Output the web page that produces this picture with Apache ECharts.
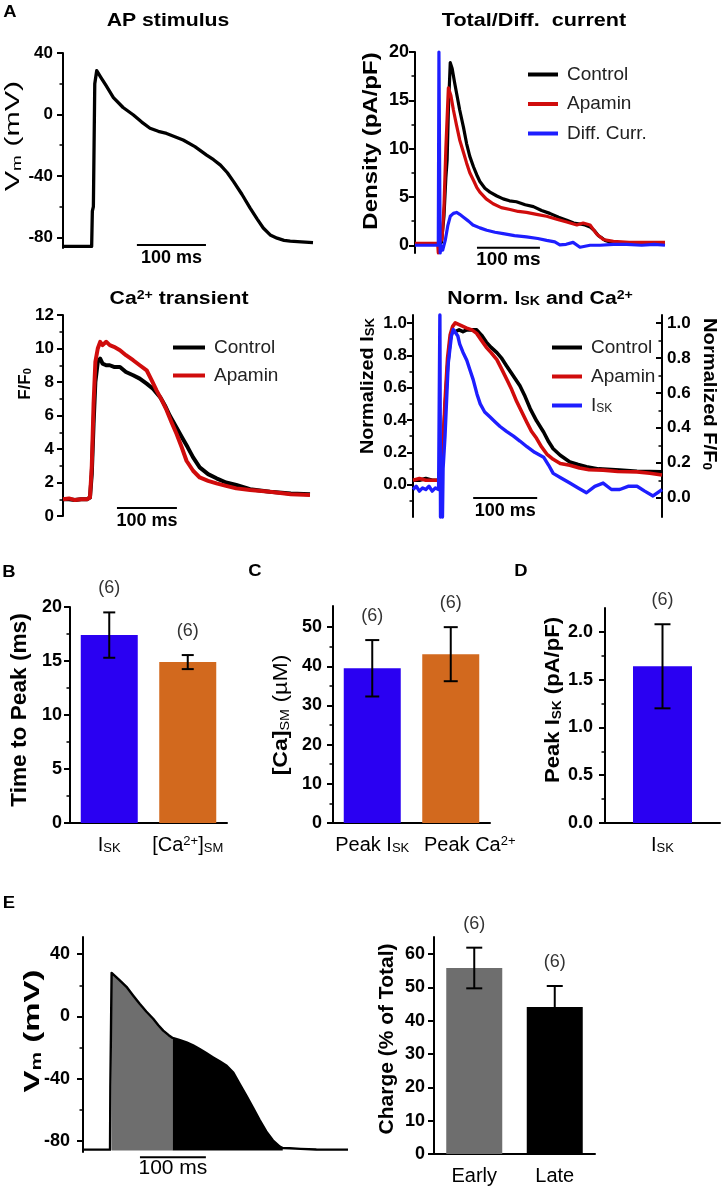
<!DOCTYPE html>
<html><head><meta charset="utf-8">
<script src="https://cdn.jsdelivr.net/npm/echarts@6/dist/echarts.min.js"></script>
<style>html,body{margin:0;padding:0;background:#fff}#c{width:725px;height:1187px}</style>
</head><body><div id="c"></div>
<script>
// ================= DATA =================
// A1 — AP stimulus (time ms, Vm mV)
const apT = [0,20,41.5,42.5,44,46,48.8,55,62,73,87,102,114,126,138,150,162,174,191,208,218,228,238,247,259,271,281,290,300,310,320,329,345,362];
const apV = [-86,-86,-86,-63,-60,20,28.5,24,19,11,4.5,-0.4,-5,-9,-11,-12.4,-14.5,-16.7,-21,-26.5,-29.5,-33,-38,-43.8,-52,-61,-68,-74,-78.5,-80.6,-82,-82.5,-83,-83.5];
const apTicks = [-80,-40,0,40];
const apMinor = [-60,-20,20];

// A2 — Total / difference current density (pA/pF)
const curCtrlT = [0,30,38,42,46,49,51,53,56,59,63,67,71,77,82,87,93,98,103,111,119,130,140,150,161,175,188,201,214,228,241,252,262,270,278,285,291,296,302,312,325,360,397];
const curCtrlV = [0.1,0.1,0.1,0.3,3,7,8.8,14,18.9,18.3,16.8,15.4,14,12.2,10.5,9.2,8.1,7.3,6.6,5.9,5.5,5.1,4.8,4.6,4.5,4.2,4.0,3.6,3.3,2.9,2.6,2.3,2.2,2.1,1.9,1.5,1.0,0.8,0.5,0.3,0.2,0.15,0.1];
const curApaT = [0,30,36,37,38,40,43,46,49,53,57,61,66,71,77,82,87,93,98,103,113,124,137,151,164,177,193,209,225,241,257,267,278,288,299,315,340,370,397];
const curApaV = [0.2,0.2,0.2,-0.8,0.2,0.2,0.6,4,10,16.3,15.5,14,12.4,10.9,9.6,8.5,7.5,6.7,6.0,5.5,4.8,4.3,3.9,3.7,3.5,3.4,3.2,3.0,2.7,2.4,2.1,2.3,2.1,1.2,0.6,0.4,0.3,0.3,0.3];
const curDiffT = [0,30,37,38,39,40,41,44,48,52,56,61,66,71,77,85,92,103,114,127,140,158,177,195,209,222,230,240,251,262,278,294,315,336,360,380,397];
const curDiffV = [0,0,0,20,20,-0.8,0,-0.5,0.5,2.0,3.0,3.3,3.4,3.2,2.9,2.5,2.1,1.8,1.55,1.35,1.2,1.0,0.86,0.7,0.5,0.35,0.05,0.1,0.3,-0.2,0,0,0.1,0.1,0,0.1,0];
const curTicks = [0,5,10,15,20];
const curMinor = [2.5,7.5,12.5,17.5];

// A3 — Ca2+ transient (F/F0)
const caCtrlT = [0,10,20,30,40,45,48,51,54,58,62,66,72,78,85,95,105,117,128,139.5,150,162,170,178,189,200,208,217,228,242,256,272,289,312,345,380,412];
const caCtrlV = [1.0,1.0,0.95,1.0,1.0,1.1,2.5,5.5,8.0,9.2,9.4,9.1,9.0,9.0,8.9,8.9,8.6,8.4,8.2,7.9,7.6,7.1,6.6,6.0,5.3,4.6,4.1,3.5,2.9,2.5,2.25,2.0,1.85,1.6,1.45,1.35,1.3];
const caApaT = [0,10,20,30,40,45,48,51,54,58,62,66,72,78,85,95,105,117,128,139.5,148,156,165,173,181,189.5,198,206,217,228,242,256,272,289,312,345,380,412];
const caApaV = [1.0,1.05,0.95,1.0,1.0,1.1,3,6.7,9.2,10.0,10.4,10.2,10.4,10.2,10.1,9.9,9.6,9.3,9.0,8.7,8.1,7.5,6.9,6.3,5.6,4.9,4.1,3.3,2.7,2.3,2.1,1.95,1.8,1.65,1.55,1.45,1.3,1.25];
const caTicks = [0,2,4,6,8,10,12];
const caMinor = [1,3,5,7,9,11];

// A4 — normalized I_SK (left axis) and normalized F/F0 (right axis)
const normIskT = [0,5,10,15,20,25,30,35,40,41,42,43,44,46,47,50,55,60,63,66,70,73,78,84,89,94,100,105,112,120,128,136,146,157,167,178,190,204,212,219,232,245,258,271,284,297,310,323,336,350,362,375,389];
const normIskV = [-0.03,-0.01,-0.04,-0.02,-0.03,-0.01,-0.04,-0.02,-0.03,-0.03,1.05,-0.2,0,-0.2,0.1,0.3,0.75,0.92,0.96,0.97,0.92,0.87,0.82,0.77,0.71,0.65,0.56,0.5,0.45,0.42,0.39,0.36,0.33,0.3,0.27,0.235,0.2,0.17,0.12,0.07,0.04,0.01,-0.02,-0.05,-0.01,0.01,-0.03,-0.03,-0.01,-0.01,-0.04,-0.07,-0.03];
const normApaT = [0,10,20,30,40,44,47,50,54,58,62,66,72,78,84,92,99.5,107,114.5,122,131,138,146,154,162,170,178,185,193,201,209,219,230,245,260,275,297,320,350,370,389];
const normApaV = [0.1,0.11,0.1,0.1,0.1,0.12,0.3,0.55,0.8,0.93,0.98,1.0,0.99,0.98,0.97,0.96,0.94,0.9,0.86,0.83,0.79,0.74,0.68,0.62,0.55,0.49,0.43,0.38,0.34,0.29,0.25,0.22,0.196,0.186,0.17,0.16,0.158,0.15,0.148,0.14,0.13];
const normCtrlT = [0,10,20,30,40,44,47,50,54,58,61,66,72,78,84,92,99.5,107,114.5,122,131,138,146,156,167,175,183,193,204,212,219,230,245,258,271,290,323,350,370,389];
const normCtrlV = [0.1,0.1,0.11,0.1,0.1,0.12,0.3,0.5,0.75,0.9,0.95,0.95,0.96,0.95,0.96,0.96,0.96,0.93,0.89,0.86,0.83,0.8,0.755,0.7,0.64,0.58,0.51,0.44,0.376,0.32,0.28,0.243,0.205,0.19,0.177,0.165,0.158,0.152,0.15,0.148];
const normTicks = [0,0.2,0.4,0.6,0.8,1.0];
const normMinorL = [-0.1,0.1,0.3,0.5,0.7,0.9];
const normMinorR = [0.1,0.3,0.5,0.7,0.9];

// B — time to peak (ms)
const tpCats = ['I_{SK}','[Ca^{2+}]_{SM}'];
const tpMean = [17.4,14.9];
const tpSem = [2.1,0.65];
const tpN = [6,6];
const tpTicks = [0,5,10,15,20];
const tpMinor = [2.5,7.5,12.5,17.5];

// C — [Ca]SM (µM)
const caSmCats = ['Peak I_{SK}','Peak Ca^{2+}'];
const caSmMean = [39.5,43.1];
const caSmSem = [7.2,6.9];
const caSmN = [6,6];
const caSmTicks = [0,10,20,30,40,50];
const caSmMinor = [5,15,25,35,45];

// D — peak I_SK (pA/pF)
const pkCats = ['I_{SK}'];
const pkMean = [1.64];
const pkSem = [0.44];
const pkN = [6];
const pkTicks = [0,0.5,1.0,1.5,2.0];
const pkMinor = [0.25,0.75,1.25,1.75];

// E — AP with early / late phases, charge
const eT = [0,20,41,41.5,43.4,55,66,76,86,96,106.5,114,121.7,130,136,146,157,167,177,187,197.5,208,218,228,238,248,258,268,278,288,298.5,303,313.6,330,354,380,402];
const eV = [-85.5,-85.5,-85.5,-45,28,23.5,19,13.5,8.2,3.2,-1.5,-5.5,-9.1,-12,-13.8,-15,-16.6,-18.5,-20.9,-23.5,-26.3,-29,-31.7,-36,-43.6,-51,-58.7,-66.5,-73.8,-79.5,-83.5,-84.5,-84.6,-85,-85.4,-85.5,-85.5];
const eStart = 43.4, eSplit = 136, eEnd = 303;
const chCats = ['Early','Late'];
const chMean = [55.8,44.1];
const chSem = [6.1,6.3];
const chN = [6,6];
const chTicks = [0,10,20,30,40,50,60];

// ================= STYLE / HELPERS =================
const FF = "'Liberation Sans', Arial, Helvetica, sans-serif";
const BLACK = '#000000', RED = '#d00c0c', BLUE = '#1e1eff';
const BAR_BLUE = '#2a00f2', BAR_ORANGE = '#d2691e', GRAY = '#6e6e6e';

function rt(s){ return s.replace(/_\{([^}]*)\}/g,'{sub|$1}').replace(/\^\{([^}]*)\}/g,'{sup|$1}'); }
function richSet(fs, w, color){
  const r = Math.round(fs*0.64);
  return {
    sub:{fontSize:r, fontFamily:FF, fontWeight:w, verticalAlign:'bottom', lineHeight:r, fill:color, color:color},
    sup:{fontSize:r, fontFamily:FF, fontWeight:w, verticalAlign:'top', lineHeight:r, fill:color, color:color},
    b:{fontSize:fs, fontFamily:FF, fontWeight:'bold', fill:color, color:color},
    n:{fontSize:fs, fontFamily:FF, fontWeight:'normal', fill:color, color:color}
  };
}
function gt(x, y, s, fs, w, o){
  o = o || {};
  const c = o.color || '#000';
  return {type:'text', x:x, y:y, rotation:o.rot||0, scaleX:o.sx||1, scaleY:o.sy||1, silent:true, z:10,
    style:{text:rt(s), fontSize:fs, fontWeight:w, fontFamily:FF, fill:c,
      align:'center', verticalAlign:'middle', textAlign:'center', textVerticalAlign:'middle',
      rich:richSet(fs, w, c)}};
}

const grids = [
  {left:63,  top:53,  width:250, height:195}, // 0 A1
  {left:415, top:52,  width:250, height:201}, // 1 A2
  {left:63,  top:315, width:247, height:201}, // 2 A3
  {left:413, top:315, width:249, height:202}, // 3 A4
  {left:70,  top:607, width:157, height:216}, // 4 B
  {left:333, top:606, width:157, height:217}, // 5 C
  {left:605, top:608, width:115, height:215}, // 6 D
  {left:83,  top:937, width:265, height:215}, // 7 E1
  {left:434, top:937, width:161, height:217}  // 8 E2
].map(g => Object.assign({outerBoundsMode:'none', containLabel:false}, g));

const yAxes = [];
function addY(grid, min, max, majors, minors, o){
  o = o || {};
  const pos = o.pos || 'left';
  const inside = !!o.inside;
  yAxes.push({type:'value', gridIndex:grid, min:min, max:max, position:pos,
    splitLine:{show:false},
    axisLine:{show:true, onZero:false, lineStyle:{color:'#000', width:2}},
    axisTick:{show:true, inside:inside, length:6, lineStyle:{color:'#000', width:2}, customValues:majors},
    axisLabel:{show:true, customValues:majors, margin:o.margin||8, formatter:o.fmt||(v=>String(v)),
      fontFamily:FF, fontWeight:'bold', fontSize:o.fs||17, color:'#000'}});
  const idx = yAxes.length - 1;
  if (minors && minors.length){
    yAxes.push({type:'value', gridIndex:grid, min:min, max:max, position:pos,
      splitLine:{show:false}, axisLine:{show:false, onZero:false},
      axisTick:{show:true, inside:inside, length:3.5, lineStyle:{color:'#000', width:1.5}, customValues:minors},
      axisLabel:{show:false}});
  }
  return idx;
}
const f1 = v => Number(v).toFixed(1);
const yA1 = addY(0, -87, 40, apTicks, apMinor, {margin:10});
const yA2 = addY(1, -0.8, 20, curTicks, curMinor, {margin:6, fs:18});
const yA3 = addY(2, 0, 12, caTicks, caMinor, {margin:9});
const yA4L = addY(3, -0.2, 1.05, normTicks, normMinorL, {margin:6, fmt:f1});
const yA4R = addY(3, -0.11, 1.045, normTicks, normMinorR, {pos:'right', inside:true, margin:5, fmt:f1});
const yB = addY(4, 0, 20, tpTicks, tpMinor, {margin:8, fs:18});
const yC = addY(5, 0, 55.4, caSmTicks, caSmMinor, {margin:11, fs:18});
const yD = addY(6, 0, 2.25, pkTicks, pkMinor, {margin:12, fs:18, fmt:f1});
const yE1 = addY(7, -87, 51, apTicks, apMinor, {margin:13, fs:18});
const yE2 = addY(8, 0, 65.1, chTicks, [], {margin:9, fs:18});

function hidX(g, max){ return {type:'value', gridIndex:g, min:0, max:max, show:false, axisLine:{onZero:false}}; }
function catX(g, cats, shifts){
  return {type:'category', gridIndex:g,
    data:cats.map((c,i)=>(shifts && shifts[i]) ? {value:c, textStyle:{padding:[0,0,0,shifts[i]]}} : c),
    axisLine:{show:true, onZero:false, lineStyle:{color:'#000', width:2}},
    axisTick:{show:false}, splitLine:{show:false},
    axisLabel:{interval:0, margin:12, formatter:v=>rt(v), fontFamily:FF, fontSize:20, color:'#000',
      rich:richSet(20,'normal','#000')}};
}
const xAxes = [hidX(0,362), hidX(1,397), hidX(2,412), hidX(3,389),
  catX(4,tpCats), catX(5,caSmCats,[0,38]), catX(6,pkCats), hidX(7,402), catX(8,chCats)];

function lineS(name, xi, yi, T, V, color, width, z){
  return {type:'line', name:name, xAxisIndex:xi, yAxisIndex:yi, data:T.map((t,i)=>[t,V[i]]),
    showSymbol:false, symbol:'none', color:color, lineStyle:{color:color, width:width, join:'round'},
    itemStyle:{color:color}, z:z||2, clip:false, silent:true};
}
function scaleBar(xi, yi, t0, len, y, dy, weight, fs){
  return {type:'custom', xAxisIndex:xi, yAxisIndex:yi, clip:false, silent:true, z:6,
    data:[[t0, y, t0+len]],
    renderItem:(p, api)=>{
      const a = api.coord([api.value(0), api.value(1)]);
      const b = api.coord([api.value(2), api.value(1)]);
      return {type:'group', children:[
        {type:'line', shape:{x1:a[0], y1:a[1], x2:b[0], y2:b[1]}, style:{stroke:'#000', lineWidth:2}},
        {type:'text', x:(a[0]+b[0])/2, y:a[1]+dy, style:{text:len+' ms', fontFamily:FF, fontSize:fs, fontWeight:weight,
          fill:'#000', align:'center', verticalAlign:'middle', textAlign:'center', textVerticalAlign:'middle'}}
      ]};
    }};
}
function barS(xi, yi, mean, colors, w){
  return {type:'bar', xAxisIndex:xi, yAxisIndex:yi, barWidth:w, silent:true, z:2,
    data:mean.map((v,i)=>({value:v, itemStyle:{color:colors[i]}}))};
}
function errS(xi, yi, mean, sem, n, cap){
  return {type:'custom', xAxisIndex:xi, yAxisIndex:yi, z:5, clip:false, silent:true,
    encode:{x:0, y:[1,2]},
    data:mean.map((m,i)=>[i, m-sem[i], m+sem[i], n[i]]),
    renderItem:(p, api)=>{
      const x = api.value(0);
      const lo = api.coord([x, api.value(1)]);
      const hi = api.coord([x, api.value(2)]);
      const h = cap/2;
      return {type:'group', children:[
        {type:'line', shape:{x1:hi[0], y1:hi[1], x2:lo[0], y2:lo[1]}, style:{stroke:'#000', lineWidth:2}},
        {type:'line', shape:{x1:hi[0]-h, y1:hi[1], x2:hi[0]+h, y2:hi[1]}, style:{stroke:'#000', lineWidth:2}},
        {type:'line', shape:{x1:lo[0]-h, y1:lo[1], x2:lo[0]+h, y2:lo[1]}, style:{stroke:'#000', lineWidth:2}},
        {type:'text', x:hi[0], y:hi[1]-24, style:{text:'('+api.value(3)+')', fontFamily:FF, fontSize:18,
          fontWeight:'normal', fill:'#333', align:'center', verticalAlign:'middle', textAlign:'center', textVerticalAlign:'middle'}}
      ]};
    }};
}

const ePts = eT.map((t,i)=>[t, eV[i]]);
const earlyPts = ePts.filter(p => p[0] >= eStart && p[0] <= eSplit);
const latePts = ePts.filter(p => p[0] >= eSplit && p[0] <= eEnd);

const series = [
  // A1
  lineS('AP', 0, yA1, apT, apV, BLACK, 3.3),
  scaleBar(0, yA1, 107, 100, -85, 13, 'bold', 18),
  // A2
  lineS('Control', 1, yA2, curCtrlT, curCtrlV, BLACK, 3.2, 2),
  lineS('Apamin', 1, yA2, curApaT, curApaV, RED, 3.2, 3),
  lineS('Diff. Curr.', 1, yA2, curDiffT, curDiffV, BLUE, 3.2, 4),
  scaleBar(1, yA2, 98.4, 100, -0.25, 12, 'bold', 19),
  // A3
  lineS('Control', 2, yA3, caCtrlT, caCtrlV, BLACK, 4, 2),
  lineS('Apamin', 2, yA3, caApaT, caApaV, RED, 4, 3),
  scaleBar(2, yA3, 90, 100, 0.48, 13.5, 'bold', 18),
  // A4
  lineS('Control', 3, yA4R, normCtrlT, normCtrlV, BLACK, 3.6, 2),
  lineS('Apamin', 3, yA4R, normApaT, normApaV, RED, 3.6, 3),
  lineS('I_{SK}', 3, yA4L, normIskT, normIskV, BLUE, 3.4, 4),
  scaleBar(3, yA4L, 94, 100, -0.082, 13, 'bold', 18),
  // B
  barS(4, yB, tpMean, [BAR_BLUE, BAR_ORANGE], 57),
  errS(4, yB, tpMean, tpSem, tpN, 12),
  // C
  barS(5, yC, caSmMean, [BAR_BLUE, BAR_ORANGE], 57),
  errS(5, yC, caSmMean, caSmSem, caSmN, 14),
  // D
  barS(6, yD, pkMean, [BAR_BLUE], 59),
  errS(6, yD, pkMean, pkSem, pkN, 16),
  // E1
  {type:'line', name:'Early', xAxisIndex:7, yAxisIndex:yE1, data:earlyPts, showSymbol:false, symbol:'none',
    lineStyle:{width:0, opacity:0}, areaStyle:{color:GRAY, opacity:1, origin:-86}, z:1, silent:true},
  {type:'line', name:'Late', xAxisIndex:7, yAxisIndex:yE1, data:latePts, showSymbol:false, symbol:'none',
    lineStyle:{width:0, opacity:0}, areaStyle:{color:BLACK, opacity:1, origin:-86}, z:1, silent:true},
  lineS('AP-E', 7, yE1, eT, eV, BLACK, 2.4, 3),
  scaleBar(7, yE1, 86.4, 100, -90.3, 11, 'normal', 21),
  // E2
  barS(8, yE2, chMean, [GRAY, BLACK], 56),
  errS(8, yE2, chMean, chSem, chN, 16)
];

const legText = {fontFamily:FF, fontSize:19, color:'#222', lineHeight:18, padding:[0,0,0,4], rich:richSet(19,'normal','#222')};
const legends = [
  {data:['Control','Apamin','Diff. Curr.'], left:523, top:60, orient:'vertical', icon:'rect', itemWidth:30, itemHeight:4, itemGap:10.5, selectedMode:false, textStyle:legText},
  {data:['Control','Apamin'], left:168, top:333, orient:'vertical', icon:'rect', itemWidth:32, itemHeight:4, itemGap:9, selectedMode:false, textStyle:legText},
  {data:['Control','Apamin','I_{SK}'], left:547, top:333, orient:'vertical', icon:'rect', itemWidth:30, itemHeight:4, itemGap:10, selectedMode:false, formatter:n=>rt(n), textStyle:legText}
];

const P2 = Math.PI/2;
const graphics = [
  // panel letters
  gt(10, 13, 'A', 16, 'bold', {sx:1.15}),
  gt(9, 573, 'B', 16, 'bold', {sx:1.15}),
  gt(255, 572, 'C', 16, 'bold', {sx:1.15}),
  gt(521, 572, 'D', 16, 'bold', {sx:1.15}),
  gt(9, 904, 'E', 16, 'bold', {sx:1.15}),
  // titles
  gt(168, 21, 'AP stimulus', 18, 'bold', {sx:1.18}),
  gt(534, 21, 'Total/Diff.  current', 18, 'bold', {sx:1.2}),
  gt(179, 299, 'Ca^{2+} transient', 18, 'bold', {sx:1.18}),
  gt(540, 299, 'Norm. I_{SK} and Ca^{2+}', 18, 'bold', {sx:1.18}),
  // axis titles
  gt(13, 136, 'V_{m} (mV)', 21, 'normal', {rot:P2, sx:1.45}),
  gt(371, 141, 'Density (pA/pF)', 20, 'bold', {rot:P2, sx:1.2}),
  gt(25, 384, 'F/F_{0}', 17, 'bold', {rot:P2}),
  gt(368, 386, 'Normalized I_{SK}', 18, 'bold', {rot:P2, sx:1.1}),
  gt(709, 394, 'Normalized F/F_{0}', 18, 'bold', {rot:-P2, sx:1.12}),
  gt(20, 710, 'Time to Peak (ms)', 22, 'bold', {rot:P2, sx:1.03}),
  gt(281, 715, '{b|[Ca]}{sub|SM}{n| (\u00b5M)}', 21, 'normal', {rot:P2, sx:1.1}),
  gt(553, 700, 'Peak I_{SK} (pA/pF)', 21, 'bold', {rot:P2, sx:1.05}),
  gt(33, 1031, 'V_{m} (mV)', 22, 'bold', {rot:P2, sx:1.5}),
  gt(387, 1039, 'Charge (% of Total)', 21, 'bold', {rot:P2})
];

const chart = echarts.init(document.getElementById('c'), null, {renderer:'canvas'});
chart.setOption({
  backgroundColor:'#ffffff',
  animation:false,
  textStyle:{fontFamily:FF},
  grid:grids,
  xAxis:xAxes,
  yAxis:yAxes,
  legend:legends,
  graphic:graphics,
  series:series
});
</script>
</body></html>
